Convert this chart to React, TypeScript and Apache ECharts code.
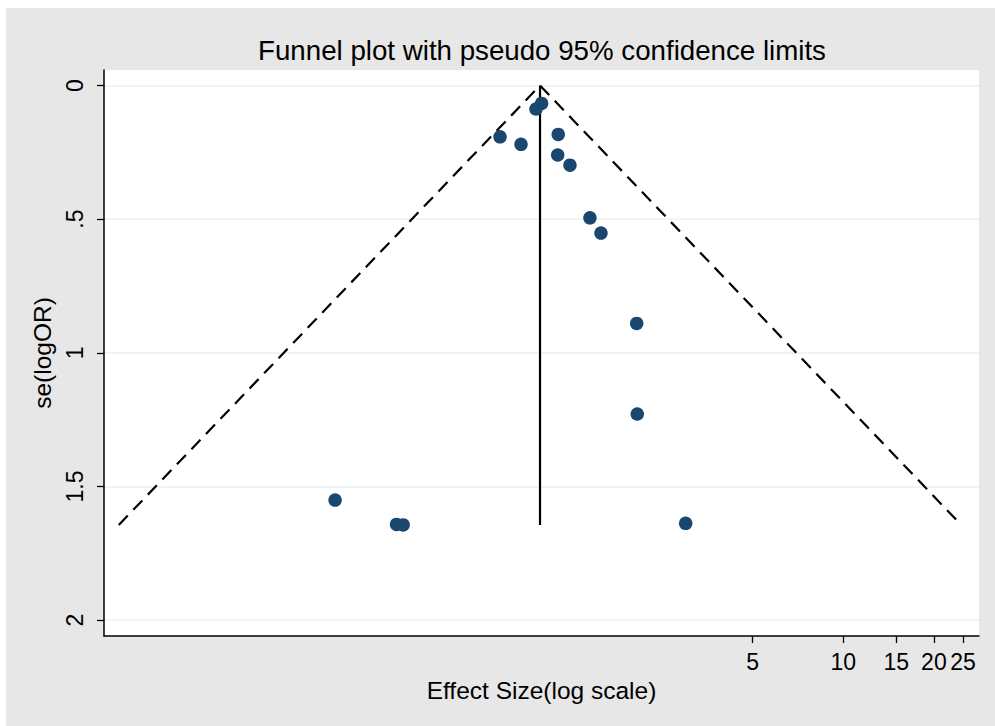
import React, { useEffect, useRef } from "react";
import * as echarts from "echarts";

// Study effect sizes (odds ratios) and their standard errors of log(OR)
const studyOR = [0.995, 0.953, 0.724, 0.85, 1.13, 1.125, 1.236, 1.44, 1.567, 2.059, 2.068, 0.205, 0.328, 0.345, 2.995];
const studySE = [0.067, 0.088, 0.192, 0.22, 0.183, 0.26, 0.298, 0.495, 0.552, 0.89, 1.229, 1.551, 1.642, 1.644, 1.638];
const pooledOR = 0.983;

const xTickValues = [5, 10, 15, 20, 25];
const yTickValues = [0, 0.5, 1, 1.5, 2];
const xRange = [0.035, 28.24];
const yRange = [-0.058, 2.0595];

const titleText = "Funnel plot with pseudo 95% confidence limits";
const xName = "Effect Size(log scale)";
const yName = "se(logOR)";

const FONT = "'Liberation Sans', Arial, Helvetica, sans-serif";

export default function App() {
  const ref = useRef<HTMLDivElement>(null);
  useEffect(() => {
    const chart = echarts.init(ref.current!, null, { renderer: "svg" });
    const lg = Math.log10;
    const seMax = Math.max(...studySE);
    const lp = Math.log(pooledOR);
    const xP = lg(pooledOR);
    const xL = lg(Math.exp(lp - 1.96 * seMax));
    const xR = lg(Math.exp(lp + 1.96 * seMax));
    const points = studyOR.map((o, i) => [lg(o), studySE[i]]);

    chart.setOption({
      animation: false,
      backgroundColor: "#E7E7E7",
      graphic: [
        {
          type: "text",
          x: 536,
          y: 42,
          style: {
            text: titleText,
            fontSize: 27.7,
            fontFamily: FONT,
            fill: "#000",
            align: "center",
            verticalAlign: "middle",
            textAlign: "center",
            textVerticalAlign: "middle",
          },
        },
      ],
      grid: {
        left: 98,
        top: 62,
        right: 16,
        bottom: 90,
        show: true,
        backgroundColor: "#FFFFFF",
        borderWidth: 0,
      },
      xAxis: {
        type: "value",
        min: lg(xRange[0]),
        max: lg(xRange[1]),
        name: xName,
        nameLocation: "middle",
        nameGap: 41,
        nameTextStyle: { fontSize: 24.5, fontFamily: FONT, color: "#000" },
        axisLine: { show: true, onZero: false, lineStyle: { color: "#000", width: 1.5 } },
        axisTick: {
          show: true,
          length: 7,
          customValues: xTickValues.map((v) => lg(v)),
          lineStyle: { color: "#000", width: 1.3 },
        },
        axisLabel: {
          customValues: xTickValues.map((v) => lg(v)),
          formatter: (v: number) => String(Math.round(Math.pow(10, v))),
          margin: 14,
          fontSize: 23,
          fontFamily: FONT,
          color: "#000",
        },
        splitLine: { show: false },
      },
      yAxis: {
        type: "value",
        inverse: true,
        min: yRange[0],
        max: yRange[1],
        name: yName,
        nameLocation: "middle",
        nameGap: 46,
        nameTextStyle: { fontSize: 24.5, fontFamily: FONT, color: "#000" },
        axisLine: { show: true, onZero: false, lineStyle: { color: "#000", width: 1.5 } },
        axisTick: {
          show: true,
          length: 7,
          customValues: yTickValues,
          lineStyle: { color: "#000", width: 1.3 },
        },
        axisLabel: {
          customValues: yTickValues,
          rotate: 90,
          margin: 18,
          fontSize: 23,
          fontFamily: FONT,
          color: "#000",
          formatter: (v: number) => (v > 0 && v < 1 ? String(v).replace(/^0/, "") : String(v)),
        },
        splitLine: { show: true, lineStyle: { color: "#EAF2F3", width: 1.6 } },
      },
      series: [
        {
          type: "line",
          data: [
            [xL, seMax],
            [xP, 0],
            [xR, seMax],
          ],
          symbol: "none",
          lineStyle: { color: "#000", width: 2.2, type: [13, 8] },
          z: 2,
        },
        {
          type: "line",
          data: [
            [xP, 0],
            [xP, seMax],
          ],
          symbol: "none",
          lineStyle: { color: "#000", width: 2.2 },
          z: 2,
        },
        {
          type: "scatter",
          data: points,
          symbol: "circle",
          symbolSize: 13.5,
          itemStyle: { color: "#1A476F", opacity: 1 },
          z: 3,
        },
      ],
    });
    return () => chart.dispose();
  }, []);
  return (
    <div
      ref={ref}
      style={{ position: "fixed", left: 6, top: 8, width: 989, height: 718 }}
    />
  );
}
